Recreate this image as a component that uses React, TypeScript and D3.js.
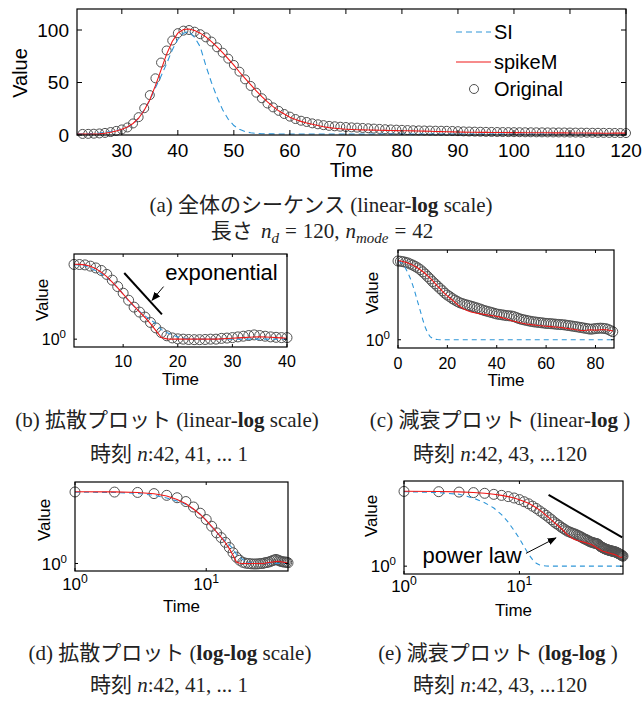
import * as d3 from "d3";
import React from "react";

// values, one per time step t = 1..129
const ORIGINAL = [
  1.05, 1.08, 1.1, 1.1, 1.12, 1.15, 1.2, 1.25, 1.3, 1.25,
  1.2, 1.15, 1.1, 1.07, 1.05, 1.0, 1.0, 0.98, 0.97, 0.97,
  0.98, 1.0, 1.02, 1.08, 1.23, 1.5, 2.0, 2.8, 3.9, 5.3,
  7.2, 11, 17, 25.5, 38, 54, 69, 80.5, 90, 97,
  99.4, 100, 98.4, 96, 93, 89, 83.5, 78.4, 72.7, 66.7,
  60.3, 53, 46.7, 40.3, 35, 30, 26.3, 23, 20, 17.5,
  15.2, 13.6, 12.4, 11.1, 10.2, 9.4, 8.7, 8.3, 7.9, 7.6,
  7.3, 7.0, 6.7, 6.4, 6.1, 5.8, 5.5, 5.3, 5.1, 4.9,
  4.7, 4.5, 4.4, 4.3, 4.2, 4.1, 4.05, 4.0, 3.85, 3.65,
  3.45, 3.3, 3.2, 3.1, 3.0, 2.92, 2.85, 2.8, 2.75, 2.7,
  2.65, 2.6, 2.58, 2.55, 2.52, 2.48, 2.45, 2.42, 2.4, 2.35,
  2.3, 2.25, 2.2, 2.15, 2.1, 2.05, 2.0, 1.95, 1.9, 1.85,
  1.88, 1.92, 1.95, 1.97, 1.95, 1.92, 1.85, 1.72, 1.6,
];

const SPIKEM = [
  1.02, 1.04, 1.06, 1.08, 1.1, 1.12, 1.14, 1.15, 1.14, 1.12,
  1.1, 1.08, 1.06, 1.04, 1.02, 1.0, 1.0, 1.0, 1.0, 1.0,
  1.0, 1.0, 1.0, 1.0, 1.02, 1.1, 1.7, 2.6, 3.8, 5.4,
  7.6, 11, 16, 23.5, 33.5, 47, 62, 77, 89, 97,
  100.5, 101, 99.5, 97, 93.5, 89, 84, 78.5, 72.5, 66.5,
  60, 54, 48, 42, 36.5, 31.5, 27, 23, 20, 17,
  14.8, 13, 11.5, 10.2, 9.0, 7.9, 7.0, 6.4, 5.9, 5.5,
  5.2, 5.0, 4.85, 4.7, 4.6, 4.5, 4.4, 4.3, 4.2, 4.1,
  4.0, 3.9, 3.8, 3.65, 3.5, 3.35, 3.2, 3.05, 2.95, 2.85,
  2.75, 2.65, 2.58, 2.52, 2.47, 2.42, 2.38, 2.34, 2.3, 2.27,
  2.24, 2.21, 2.18, 2.15, 2.12, 2.1, 2.07, 2.04, 2.0, 1.96,
  1.92, 1.88, 1.84, 1.8, 1.76, 1.73, 1.72, 1.74, 1.77, 1.78,
  1.76, 1.75, 1.76, 1.8, 1.82, 1.8, 1.76, 1.72, 1.68,
];

const SI = [
  1, 1, 1, 1, 1, 1, 1, 1, 1, 1,
  1, 1, 1, 1, 1, 1, 1, 1, 1, 1,
  1.03, 1.07, 1.15, 1.3, 1.5, 1.8, 2.6, 3.3, 4.2, 5.5,
  7.5, 10.5, 16, 24, 33, 45, 56, 68, 81, 91,
  97, 98.5, 93, 84, 66, 50, 36, 24, 15, 9,
  5.5, 3.3, 2.1, 1.5, 1.2, 1.08, 1.03, 1.01, 1, 1,
  1, 1, 1, 1, 1, 1, 1, 1, 1, 1,
  1, 1, 1, 1, 1, 1, 1, 1, 1, 1,
  1, 1, 1, 1, 1, 1, 1, 1, 1, 1,
  1, 1, 1, 1, 1, 1, 1, 1, 1, 1,
  1, 1, 1, 1, 1, 1, 1, 1, 1, 1,
  1, 1, 1, 1, 1, 1, 1, 1, 1, 1,
  1, 1, 1, 1, 1, 1, 1, 1, 1,
];

const TOP_X_TICKS = [30, 40, 50, 60, 70, 80, 90, 100, 110, 120];
const TOP_Y_TICKS = [0, 50, 100];
const B_X_TICKS = [10, 20, 30, 40];
const C_X_TICKS = [0, 20, 40, 60, 80];
const LOG_TICKS = [1, 10];
const LEGEND = ["SI", "spikeM", "Original"];

// annotations, in data units of their panels
const EXP_LINE: Pt[] = [[10.2, 59], [17.1, 4.6]];
const EXP_ARROW: Pt[] = [[17.4, 25.5], [15.3, 11]];
const EXP_TEXT: Pt = [17.7, 38];
const POW_LINE: Pt[] = [[17.9, 81], [77.7, 5.9]];
const POW_ARROW: Pt[] = [[11.4, 2.2], [20.7, 5.7]];
const POW_TEXT: Pt = [1.45, 1.18];

const SANS = "'Liberation Sans', Arial, Helvetica, sans-serif";
const SERIF = "'Liberation Serif', 'Times New Roman', 'Noto Sans CJK JP', serif";
const BLUE = "#2f96d8";
const RED = "#f01818";
const GREY = "#505050";

type Pt = [number, number];

// take values for t from..to (either direction) and map t to the panel's x
function pick(vals: number[], from: number, to: number, toX: (t: number) => number): Pt[] {
  const out: Pt[] = [];
  const step = to >= from ? 1 : -1;
  for (let t = from; step > 0 ? t <= to : t >= to; t += step) out.push([toX(t), vals[t - 1]]);
  return out;
}

const logLabel = (v: number, fs: number) => (
  <>
    10<tspan dy={-7} fontSize={fs * 0.72}>{Math.round(Math.log10(v))}</tspan>
  </>
);

type PanelProps = {
  id: string;
  left: number; top: number; width: number; height: number;
  xScale: any; yScale: any;
  xTicks: number[]; yTicks: number[];
  xFmt: (v: number) => React.ReactNode; yFmt: (v: number) => React.ReactNode;
  orig: Pt[]; spike: Pt[]; si: Pt[];
  r: number; fs: number; labelFs: number; tickLen: number;
  tickDy: number; timeDy: number; valueX: number; valueY: number;
  dash: string;
  children?: React.ReactNode;
};

function Panel(p: PanelProps) {
  const { left, top, width, height, xScale: x, yScale: y } = p;
  const bottom = top + height, right = left + width;
  const line = d3.line<Pt>().x(d => x(d[0])).y(d => y(d[1]));
  return (
    <g>
      <clipPath id={p.id}><rect x={left} y={top} width={width} height={height} /></clipPath>
      {p.orig.map((d, i) => (
        <circle key={i} cx={x(d[0])} cy={y(d[1])} r={p.r} fill="none" stroke={GREY} strokeWidth={1} />
      ))}
      <g clipPath={`url(#${p.id})`}>
        <path d={line(p.si) ?? ""} fill="none" stroke={BLUE} strokeWidth={1.1} strokeDasharray={p.dash} />
        <path d={line(p.spike) ?? ""} fill="none" stroke={RED} strokeWidth={1.1} />
      </g>
      <rect x={left} y={top} width={width} height={height} fill="none" stroke="#000" strokeWidth={1.2} />
      {p.xTicks.map(v => (
        <g key={v}>
          <line x1={x(v)} x2={x(v)} y1={bottom} y2={bottom - p.tickLen} stroke="#000" />
          <line x1={x(v)} x2={x(v)} y1={top} y2={top + p.tickLen} stroke="#000" />
          <text x={x(v)} y={bottom + p.tickDy} textAnchor="middle" fontSize={p.fs}>{p.xFmt(v)}</text>
        </g>
      ))}
      {p.yTicks.map(v => (
        <g key={v}>
          <line x1={left} x2={left + p.tickLen} y1={y(v)} y2={y(v)} stroke="#000" />
          <line x1={right} x2={right - p.tickLen} y1={y(v)} y2={y(v)} stroke="#000" />
          <text x={left - 8} y={y(v) + p.fs * 0.36} textAnchor="end" fontSize={p.fs}>{p.yFmt(v)}</text>
        </g>
      ))}
      <text x={(left + right) / 2} y={bottom + p.timeDy} textAnchor="middle" fontSize={p.labelFs}>Time</text>
      <text transform={`translate(${p.valueX},${p.valueY}) rotate(-90)`} textAnchor="middle" dy="0.35em" fontSize={p.labelFs}>Value</text>
      {p.children}
    </g>
  );
}

function Caption({ x, y, children }: { x: number; y: number; children: React.ReactNode }) {
  return <text x={x} y={y} textAnchor="middle" fontFamily={SERIF} fontSize={21} fill="#222">{children}</text>;
}

const It = ({ children }: { children: React.ReactNode }) => <tspan fontStyle="italic">{children}</tspan>;
const Bd = ({ children }: { children: React.ReactNode }) => <tspan fontWeight="bold">{children}</tspan>;

export default function App() {
  const logY = (top: number, height: number) =>
    d3.scaleLog().domain([0.617, 190]).range([top + height, top]);

  // (a) whole sequence
  const ax = d3.scaleLinear().domain([22, 120]).range([77, 626]);
  const ay = d3.scaleLinear().domain([0, 120]).range([135, 9]);
  // (b) diffusion, linear-log
  const bx = d3.scaleLinear().domain([1, 40]).range([74, 287]);
  const by = logY(254, 93);
  // (c) decay, linear-log
  const cx = d3.scaleLinear().domain([0, 87.5]).range([398, 614]);
  const cy = logY(250, 98);
  // (d) diffusion, log-log
  const dx = d3.scaleLog().domain([1, 42]).range([75, 288]);
  const dy = logY(482, 89);
  // (e) decay, log-log
  const ex = d3.scaleLog().domain([1, 79]).range([404, 623]);
  const ey = logY(481, 93);

  const fmtN = (v: number) => String(v);
  const small = { r: 5, fs: 16, labelFs: 17, tickLen: 3, dash: "5,4" };
  const lineOf = d3.line<Pt>();

  return (
    <svg width={642} height={702} style={{ position: "absolute", left: 0, top: 0, background: "#fff" }}
      fontFamily={SANS}>
      <defs>
        <marker id="arr" viewBox="0 0 10 10" refX={9} refY={5} markerWidth={9} markerHeight={9}
          markerUnits="userSpaceOnUse" orient="auto">
          <path d="M0,1 L10,5 L0,9 Z" fill="#000" />
        </marker>
      </defs>

      <Panel id="ca" left={77} top={9} width={549} height={126} xScale={ax} yScale={ay}
        xTicks={TOP_X_TICKS} yTicks={TOP_Y_TICKS} xFmt={fmtN} yFmt={fmtN}
        orig={pick(ORIGINAL, 23, 120, t => t)} spike={pick(SPIKEM, 22, 120, t => t)} si={pick(SI, 22, 120, t => t)}
        r={4.5} fs={19} labelFs={20} tickLen={5} tickDy={22} timeDy={42} valueX={20} valueY={73} dash="6,4">
        {LEGEND.map((name, i) => {
          const ly = [32, 62, 89][i];
          return (
            <g key={name}>
              {i === 0 && <line x1={456} x2={491} y1={ly} y2={ly} stroke={BLUE} strokeWidth={1.2} strokeDasharray="6,4" />}
              {i === 1 && <line x1={456} x2={491} y1={ly} y2={ly} stroke={RED} strokeWidth={1.2} />}
              {i === 2 && <circle cx={474} cy={ly} r={4.5} fill="none" stroke={GREY} />}
              <text x={494} y={ly + 7} fontSize={20}>{name}</text>
            </g>
          );
        })}
      </Panel>

      <Panel id="cb" left={74} top={254} width={213} height={93} xScale={bx} yScale={by}
        xTicks={B_X_TICKS} yTicks={[1]} xFmt={fmtN} yFmt={v => logLabel(v, 16)}
        orig={pick(ORIGINAL, 42, 3, t => 43 - t)} spike={pick(SPIKEM, 42, 1, t => 43 - t)} si={pick(SI, 42, 1, t => 43 - t)}
        {...small} tickDy={20} timeDy={38} valueX={42} valueY={300}>
        <path d={lineOf(EXP_LINE.map(d => [bx(d[0]), by(d[1])] as Pt)) ?? ""} stroke="#000" strokeWidth={2} />
        <path d={lineOf(EXP_ARROW.map(d => [bx(d[0]), by(d[1])] as Pt)) ?? ""} stroke="#000" strokeWidth={1} markerEnd="url(#arr)" />
        <text x={bx(EXP_TEXT[0])} y={by(EXP_TEXT[1])} fontSize={22}>exponential</text>
      </Panel>

      <Panel id="cc" left={398} top={250} width={216} height={98} xScale={cx} yScale={cy}
        xTicks={C_X_TICKS} yTicks={[1]} xFmt={fmtN} yFmt={v => logLabel(v, 16)}
        orig={pick(ORIGINAL, 42, 129, t => t - 42)} spike={pick(SPIKEM, 42, 129, t => t - 42)} si={pick(SI, 42, 129, t => t - 42)}
        {...small} tickDy={21} timeDy={38} valueX={372} valueY={293} />

      <Panel id="cd" left={75} top={482} width={213} height={89} xScale={dx} yScale={dy}
        xTicks={LOG_TICKS} yTicks={[1]} xFmt={v => logLabel(v, 17)} yFmt={v => logLabel(v, 16)}
        orig={pick(ORIGINAL, 42, 1, t => 43 - t)} spike={pick(SPIKEM, 42, 1, t => 43 - t)} si={pick(SI, 42, 1, t => 43 - t)}
        {...small} fs={17} tickDy={19} timeDy={41} valueX={44} valueY={520} />

      <Panel id="ce" left={404} top={481} width={219} height={93} xScale={ex} yScale={ey}
        xTicks={LOG_TICKS} yTicks={[1]} xFmt={v => logLabel(v, 17)} yFmt={v => logLabel(v, 16)}
        orig={pick(ORIGINAL, 42, 120, t => t - 41)} spike={pick(SPIKEM, 42, 120, t => t - 41)} si={pick(SI, 42, 120, t => t - 41)}
        {...small} fs={17} tickDy={18} timeDy={42} valueX={371} valueY={516}>
        <path d={lineOf(POW_LINE.map(d => [ex(d[0]), ey(d[1])] as Pt)) ?? ""} stroke="#000" strokeWidth={2} />
        <path d={lineOf(POW_ARROW.map(d => [ex(d[0]), ey(d[1])] as Pt)) ?? ""} stroke="#000" strokeWidth={1} markerEnd="url(#arr)" />
        <text x={ex(POW_TEXT[0])} y={ey(POW_TEXT[1])} fontSize={22}>power law</text>
      </Panel>

      <Caption x={321} y={212}>(a) 全体のシーケンス (linear-<Bd>log</Bd> scale)</Caption>
      <Caption x={322} y={238}>
        長さ <tspan dx={3} fontStyle="italic">n</tspan><tspan dy={5} fontSize={15} fontStyle="italic">d</tspan>
        <tspan dy={-5} dx={6}>=</tspan><tspan dx={6}>120,</tspan>
        <tspan dx={6} fontStyle="italic">n</tspan><tspan dy={5} fontSize={15} fontStyle="italic">mode</tspan>
        <tspan dy={-5} dx={6}>=</tspan><tspan dx={6}>42</tspan>
      </Caption>
      <Caption x={167} y={427}>(b) 拡散プロット (linear-<Bd>log</Bd> scale)</Caption>
      <Caption x={169} y={461}>時刻 <It>n</It>:42, 41, ... 1</Caption>
      <Caption x={500} y={427}>(c) 減衰プロット (linear-<Bd>log</Bd> )</Caption>
      <Caption x={500} y={461}>時刻 <It>n</It>:42, 43, ...120</Caption>
      <Caption x={170} y={660}>(d) 拡散プロット (<Bd>log-log</Bd> scale)</Caption>
      <Caption x={169} y={692}>時刻 <It>n</It>:42, 41, ... 1</Caption>
      <Caption x={498} y={660}>(e) 減衰プロット (<Bd>log-log</Bd> )</Caption>
      <Caption x={500} y={692}>時刻 <It>n</It>:42, 43, ...120</Caption>
    </svg>
  );
}
